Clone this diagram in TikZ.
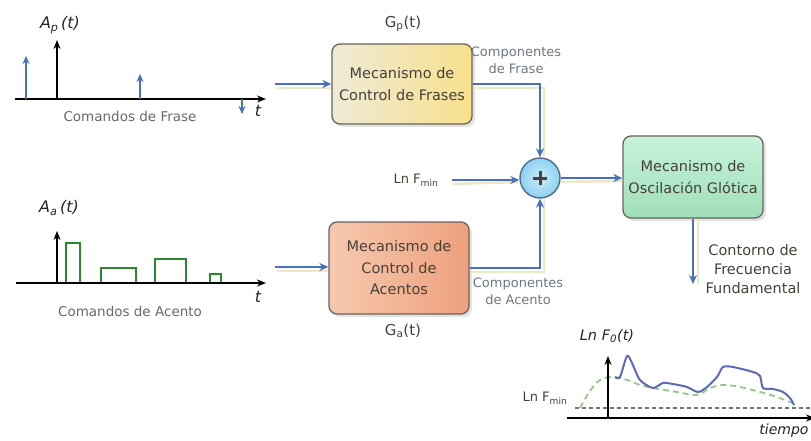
\documentclass[tikz,border=0pt]{standalone}
\usepackage{fontspec}
\setmainfont{DejaVu Sans}
\usetikzlibrary{arrows.meta,shadows,calc}
\definecolor{ablue}{RGB}{72,112,188}
\definecolor{txtgrey}{RGB}{105,105,105}
\definecolor{boxtxt}{RGB}{70,64,56}
\definecolor{cmpgrey}{RGB}{110,120,130}
\definecolor{boxborder}{RGB}{105,100,90}
\definecolor{ghost}{RGB}{238,232,200}
\definecolor{accgreen}{RGB}{45,135,45}
\definecolor{dashgreen}{RGB}{150,200,140}
\definecolor{curveblue}{RGB}{95,105,185}
\definecolor{phL}{RGB}{238,234,214}
\definecolor{phR}{RGB}{248,224,140}
\definecolor{acL}{RGB}{246,200,176}
\definecolor{acR}{RGB}{238,160,124}
\definecolor{glT}{RGB}{200,242,218}
\definecolor{glB}{RGB}{160,222,186}
\definecolor{sumfill}{RGB}{140,210,240}
\definecolor{sumborder}{RGB}{80,105,140}
\tikzset{
  arr/.style={draw=ablue, line width=2.7pt, -{Stealth[length=9pt,width=8pt]}},
  ghostline/.style={draw=ghost, line width=2.5pt},
  imp/.style={draw=ablue, line width=1.8pt, -{Stealth[length=8pt,width=7pt]}},
  axis/.style={draw=black, line width=1.5pt, -{Stealth[length=9pt,width=7pt]}},
  mbox/.style={draw=boxborder, line width=1.3pt, rounded corners=8pt, align=center,
     text=boxtxt, font=\fontsize{14.5}{21.5}\selectfont, inner sep=0pt,
     drop shadow={shadow xshift=3pt, shadow yshift=-3pt, opacity=0.18, fill=black!60}},
  lbl/.style={text=txtgrey, font=\fontsize{13.5}{16}\selectfont},
  cmp/.style={text=cmpgrey, font=\fontsize{13}{17}\selectfont, align=center},
  dark/.style={text=boxtxt, font=\fontsize{13}{15}\selectfont},
  ital/.style={font=\fontsize{16}{18}\selectfont\itshape, text=black!85},
  accrect/.style={draw=accgreen, line width=1.8pt}
}
\begin{document}
\begin{tikzpicture}[x=1pt,y=-1pt]
\useasboundingbox (0,0) rectangle (811,441);
\fill[white] (0,0) rectangle (811,441);

% ---------- nodes ----------
\node[mbox, minimum width=140pt, minimum height=80pt, left color=phL, right color=phR]
  (P) at (402,84) {Mecanismo de\\Control de Frases};
\node[mbox, minimum width=140pt, minimum height=92pt, left color=acL, right color=acR]
  (A) at (399,268) {Mecanismo de\\Control de\\Acentos};
\node[mbox, minimum width=140pt, minimum height=82pt, top color=glT, bottom color=glB]
  (G) at (693,177) {Mecanismo de\\Oscilación Glótica};
\node[circle, draw=sumborder, line width=1.4pt, inner color=sumfill!45, outer color=sumfill,
  minimum size=40pt, inner sep=0pt] (S) at (540,178) {};
\draw[line width=3pt, boxtxt] ($(S)+(-7,0)$) -- ($(S)+(7,0)$) ($(S)+(0,-7)$) -- ($(S)+(0,7)$);

\node[font=\fontsize{15}{17}\selectfont, text=boxtxt] (Gp) at (403,24) {G\textsubscript{p}(t)};
\node[font=\fontsize{15}{17}\selectfont, text=boxtxt] (Ga) at (403,331) {G\textsubscript{a}(t)};
\node[cmp] (cP) at (516,60) {Componentes\\de Frase};
\node[cmp] (cA) at (518,291) {Componentes\\de Acento};
\node[dark] (Fmin) at (416,180) {Ln F\textsubscript{min}};
\node[dark, align=center, font=\fontsize{14.5}{19}\selectfont] (cont) at (753,269) {Contorno de\\Frecuencia\\Fundamental};

% ---------- coordinates ----------
\coordinate (inP) at (275,84);
\coordinate (inA) at (275,267);
\coordinate (minS) at (452,180);
\coordinate (gOut) at (693,284);

% ---------- ghost shadows ----------
\draw[ghostline] ($(inP)+(2,4)$) -- ($(P.west)+(0,4)$);
\draw[ghostline] ($(inA)+(2,4)$) -- ($(A.west)+(0,3)$);
\draw[ghostline] ($(P.east)+(0,4)$) -- ($(P.east -| S)+(4,4)$) -- ($(S.north)+(4,0)$);
\draw[ghostline] ($(A.east)+(0,4)$) -- ($(A.east -| S)+(4,4)$) -- ($(S.south)+(4,0)$);
\draw[ghostline] ($(minS)+(0,4)$) -- ($(S.west)+(0,4)$);
\draw[ghostline] ($(S.east)+(0,4)$) -- ($(G.west)+(0,4)$);
\draw[ghostline] ($(G.south)+(5,0)$) -- ($(gOut)+(5,0)$);

% ---------- connectors ----------
\draw[arr] (inP) -- (P.west);
\draw[arr] (inA) -- (A.west |- inA);
\draw[arr] (P.east) -| (S.north);
\draw[arr] (A.east) -| (S.south);
\draw[arr] (minS) -- (S.west |- minS);
\draw[arr] (S.east) -- (G.west |- S.east);
\draw[arr] (G.south) -- (gOut);

% ---------- phrase command plot ----------
\coordinate (pO) at (57,99);
\coordinate (pXs) at (15,99);
\coordinate (pXe) at (266,99);
\coordinate (pYe) at (57,40);
\draw[axis] (pXs) -- (pXe);
\draw[axis] (pO) -- (pYe);
\node[ital] (Ap) at (60,25) {A\textsubscript{p}\,(t)};
\node[ital] (tp) at (258,111) {t};
\node[lbl] (cf) at (130,116) {Comandos de Frase};
\coordinate (i1a) at (26,99); \coordinate (i1b) at (26,56);
\coordinate (i2a) at (140,99); \coordinate (i2b) at (140,74);
\coordinate (i3a) at (242,99); \coordinate (i3b) at (242,114);
\draw[imp] (i1a) -- (i1b);
\draw[imp] (i2a) -- (i2b);
\draw[imp] (i3a) -- (i3b);

% ---------- accent command plot ----------
\coordinate (aO) at (57,283);
\coordinate (aXs) at (16,283);
\coordinate (aXe) at (266,283);
\coordinate (aYe) at (57,231);
\draw[accrect] (66,283) rectangle (80,243);
\draw[accrect] (101,283) rectangle (136,268);
\draw[accrect] (155,283) rectangle (186,259);
\draw[accrect] (210,283) rectangle (221,274);
\draw[axis] (aXs) -- (aXe);
\draw[axis] (aO) -- (aYe);
\node[ital] (Aa) at (59,208) {A\textsubscript{a}\,(t)};
\node[ital] (ta) at (258,297) {t};
\node[lbl] (ca) at (130,311) {Comandos de Acento};

% ---------- F0 contour plot ----------
\coordinate (fO) at (608,418);
\coordinate (fXs) at (567,418);
\coordinate (fXe) at (811,418);
\coordinate (fYe) at (608,356);
\draw[dashed, draw=black!55, line width=1.2pt, dash pattern=on 4pt off 3pt] (575,408) -- (811,408);
\draw[dashed, draw=dashgreen, line width=1.8pt, dash pattern=on 6pt off 4pt]
  plot[smooth, tension=0.6] coordinates {(580,408) (590,391) (600,380) (613,377) (627,380) (640,385) (653,388) (677,392) (697,395) (710,388) (723,385) (740,387) (760,392) (777,397) (792,403)};
\draw[draw=curveblue, line width=2pt, line join=round]
  plot[smooth, tension=0.45] coordinates {(615,377) (620,377) (627,356) (632,363) (640,380) (653,388) (663,383) (673,384) (687,387) (698,392) (707,387) (717,377) (723,367) (733,367) (753,372) (760,376) (763,388) (773,389) (783,392) (790,398) (794,405)};
\draw[axis] (fXs) -- ($(fXe)+(4,0)$);
\draw[axis] (fO) -- (fYe);
\node[ital, font=\fontsize{14.5}{16}\selectfont\itshape] (lnf) at (607,336) {Ln F\textsubscript{0}(t)};
\node[dark] (lfm) at (545,398) {Ln F\textsubscript{min}};
\node[ital, font=\fontsize{14}{16}\selectfont\itshape] (tiempo) at (784,431) {tiempo};
\end{tikzpicture}
\end{document}
